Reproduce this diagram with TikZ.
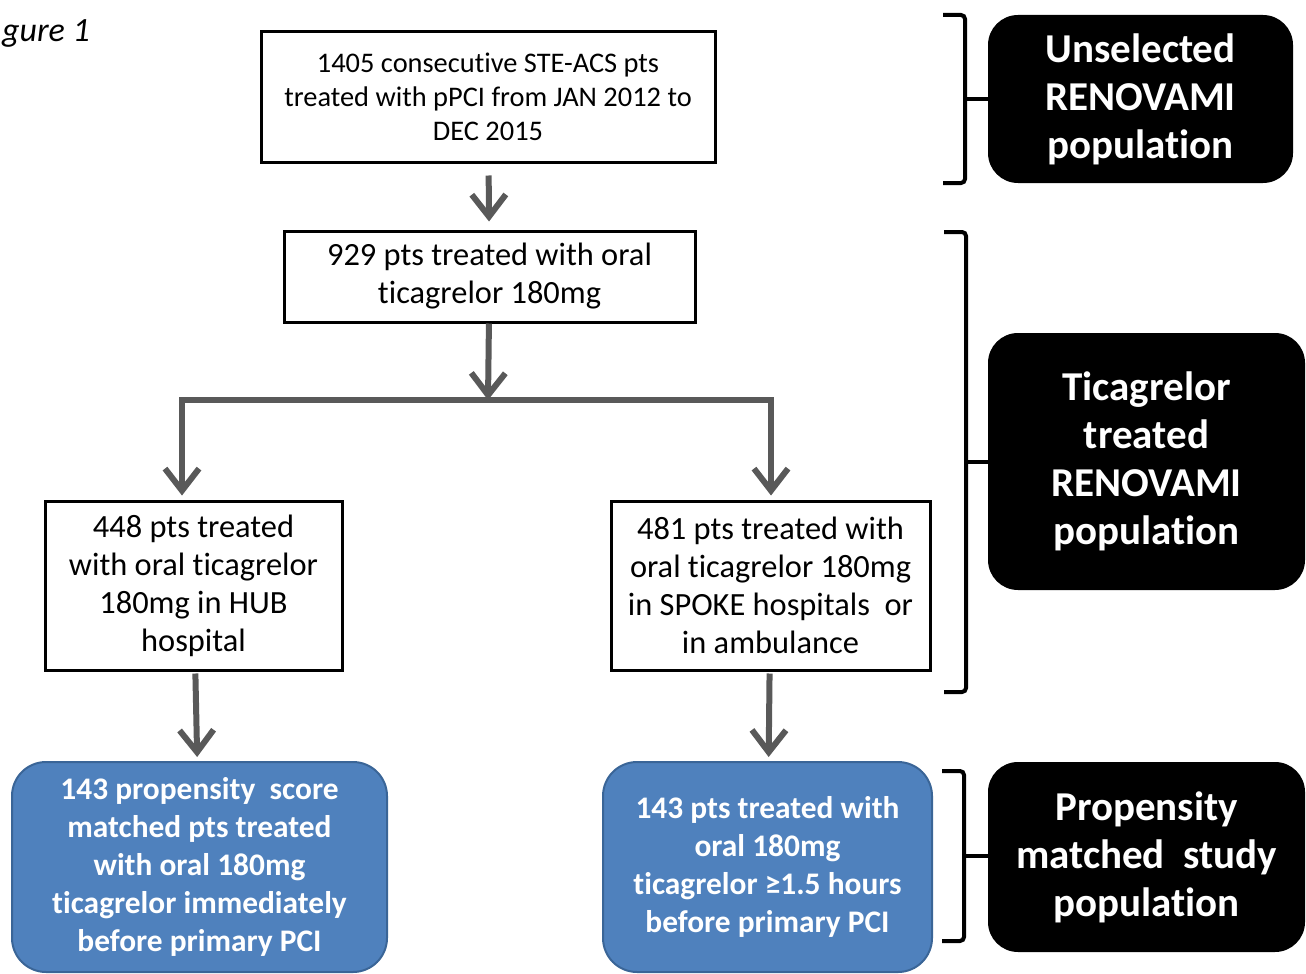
\documentclass[tikz,border=0pt]{standalone}
\usepackage{fontspec}
\setmainfont[Ligatures={NoCommon}]{Carlito}
\usepackage{tikz}
\usetikzlibrary{arrows.meta}
\usetikzlibrary{calc}
\definecolor{arrowgray}{HTML}{595959}
\definecolor{boxblue}{HTML}{4F81BD}
\definecolor{boxblueline}{HTML}{3A6597}
\newcommand{\popbracket}[4] % x in px, top y, bottom y, label node
{
	% bracket
	\draw[line width=2pt, rounded corners=2pt] (#1-22,#2) -- (#1,#2) -- (#1,#3) -- (#1-22,#3);
	% tick to label
	\draw[line width=2pt] (#1,{(#2+#3)/2}) -- (#4.west |- {(#1,{(#2+#3)/2})});
}
\tikzset{
	whitebox/.style={draw=black, line width=1.5pt, align=center, inner sep=0pt, font=\fontsize{16.2}{19}\selectfont},
	bluebox/.style={draw=boxblueline, fill=boxblue, line width=1pt, rounded corners=17pt, text=white, align=center, inner sep=0pt, font=\fontsize{15.7}{19}\selectfont\bfseries},
	blackbox/.style={fill=black, rounded corners=15pt, text=white, align=center, inner sep=0pt, font=\fontsize{20.5}{24}\selectfont\bfseries},
	flowline/.style={draw=arrowgray, line width=3pt},
	flowarrow/.style={flowline, -{Straight Barb[length=11pt, width=17pt]}},
}

\begin{document}
\begin{tikzpicture}[x=0.5pt, y=-0.5pt]
	% page: 1306 x 974 px
	\useasboundingbox (0,0) rectangle (1306,974);
	\node[anchor=base west, font=\itshape\fontsize{17}{20}\selectfont] (figlabel) at (-5,42) {gure 1};
	% flow boxes
	\node[whitebox, minimum width=227pt, minimum height=65pt, font=\fontsize{14.2}{17}\selectfont] (allpts) at (488,97)
		{1405 consecutive STE-ACS pts\\treated with pPCI from JAN 2012 to\\DEC 2015};
	\node[whitebox, minimum width=205.5pt, minimum height=45.5pt] (ticag) at (489.5,276.5)
		{929 pts treated with oral\\ticagrelor 180mg};
	\node[whitebox, minimum width=148.5pt, minimum height=84.5pt] (hub) at (193.5,585.5)
		{448 pts treated\\with oral ticagrelor\\180mg in HUB\\hospital};
	\node[whitebox, minimum width=159.5pt, minimum height=84.5pt] (spoke) at (770.5,585.5)
		{481 pts treated with\\oral ticagrelor 180mg\\in SPOKE hospitals\ \ or\\in ambulance};
	% matched groups
	\node[bluebox, minimum width=187.5pt, minimum height=105pt] (hubmatch) at (199.5,867)
		{143 propensity\ \ score\\matched pts treated\\with oral 180mg\\ticagrelor immediately\\before primary PCI};
	\node[bluebox, minimum width=164.5pt, minimum height=105pt] (spokematch) at (767.5,867)
		{143 pts treated with\\oral 180mg\\ticagrelor ≥1.5 hours\\before primary PCI};
	% population labels
	\node[blackbox, minimum width=152.5pt, minimum height=84pt] (unsel) at (1140.5,99)
		{Unselected\\RENOVAMI\\population};
	\node[blackbox, minimum width=158.5pt, minimum height=128.5pt] (ticpop) at (1146.5,461.5)
		{Ticagrelor\\treated\\RENOVAMI\\population};
	\node[blackbox, minimum width=158.5pt, minimum height=95pt] (matchpop) at (1146.5,857)
		{Propensity\\matched\ \ study\\population};
	% arrows
	\coordinate (split) at (488,400);
	\coordinate (splitL) at (182,400);
	\coordinate (splitR) at (771,400);
	\draw[flowarrow, shorten <=6pt, shorten >=4pt] (allpts) -- (ticag);
	\draw[flowarrow] (ticag) -- (split);
	\draw[flowline, line cap=rect] (splitL) -- (splitR);
	\draw[flowarrow, shorten >=2pt] (splitL) -- (splitL |- hub.north);
	\draw[flowarrow, shorten >=2pt] (splitR) -- (splitR |- spoke.north);
	\draw[flowarrow, shorten <=1pt, shorten >=2pt] (hub) -- (hubmatch);
	\draw[flowarrow, shorten <=1pt, shorten >=2pt] (spoke) -- (spokematch);
	% brackets
	\popbracket{965}{15}{183}{unsel};
	\popbracket{966}{232}{692}{ticpop};
	\popbracket{964}{771}{941}{matchpop};
\end{tikzpicture}
\end{document}
